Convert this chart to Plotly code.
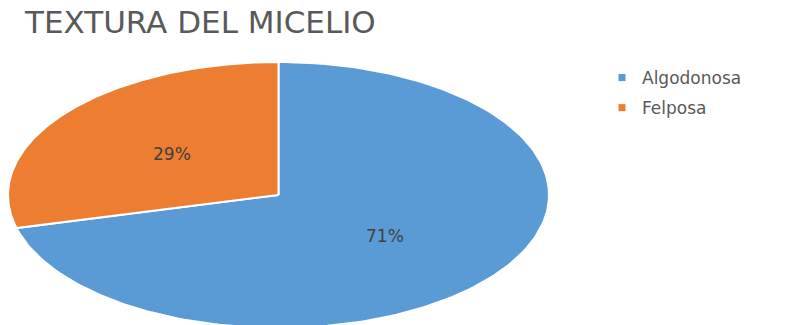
import numpy as np
import plotly.graph_objects as go

categories = ["Algodonosa", "Felposa"]
values = [71, 29]
colors = ["#5B9BD5", "#ED7D31"]
title_text = "TEXTURA DEL MICELIO"

W, H = 796, 325
cx, cy, rx, ry = 278.5, 195.0, 270.5, 133.0

fig = go.Figure()
total = sum(values)
cum = 0.0
for cat, val, col in zip(categories, values, colors):
    a0 = 90 - 360 * cum / total
    a1 = 90 - 360 * (cum + val) / total
    th = np.radians(np.linspace(a0, a1, 200))
    xs = np.concatenate([[cx], cx + rx * np.cos(th), [cx]])
    ys = np.concatenate([[cy], cy - ry * np.sin(th), [cy]])
    fig.add_trace(go.Scatter(x=xs, y=ys, mode="lines", fill="toself",
                             fillcolor=col, line=dict(color="white", width=2),
                             showlegend=False, hoverinfo="skip"))
    am = np.radians((a0 + a1) / 2)
    fig.add_annotation(x=cx + 0.5 * rx * np.cos(am), y=cy - 0.5 * ry * np.sin(am),
                       text=f"{round(100 * val / total)}%", showarrow=False,
                       font=dict(family="DejaVu Sans", size=17, color="#404040"))
    cum += val

for cat, col in zip(categories, colors):
    fig.add_trace(go.Scatter(x=[None], y=[None], mode="markers", name=cat,
                             legendgroup=cat,
                             marker=dict(symbol="square", size=7, color=col)))

fig.update_layout(
    width=W, height=H,
    margin=dict(l=0, r=0, t=0, b=0),
    paper_bgcolor="white", plot_bgcolor="white",
    xaxis=dict(range=[0, W], visible=False, fixedrange=True),
    yaxis=dict(range=[H, 0], visible=False, fixedrange=True),
    title=dict(text=title_text, x=25 / W, xanchor="left", y=1 - 22 / H, yanchor="middle",
               font=dict(family="DejaVu Sans", size=31, color="#595959")),
    legend=dict(x=602 / W, y=1 - 60 / H, xanchor="left", yanchor="top",
                font=dict(family="DejaVu Sans", size=17, color="#595959"),
                tracegroupgap=5, bgcolor="rgba(0,0,0,0)", itemwidth=30),
)

fig.write_html("out.html")
